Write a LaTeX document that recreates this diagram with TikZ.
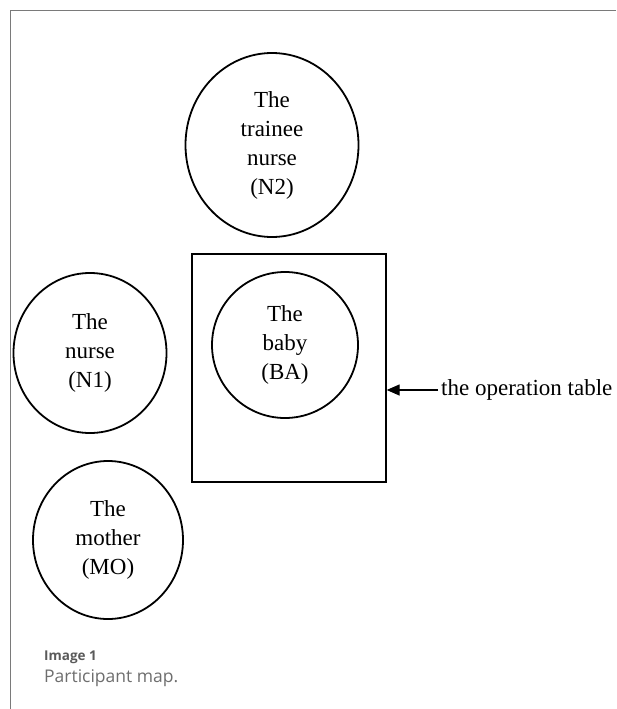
\documentclass[tikz,border=0pt]{standalone}
\usepackage{fontspec}
\setmainfont{Liberation Serif}
\newfontfamily\capfont{Open Sans}
\usetikzlibrary{shapes.geometric,arrows.meta}
\definecolor{framegray}{HTML}{7A7A7A}
\definecolor{capdark}{HTML}{5A5A5A}
\definecolor{caplight}{HTML}{6E6E6E}
\tikzset{
  person/.style={ellipse, draw=black, line width=1.8pt, inner sep=0pt, align=center,
    font=\fontsize{23}{29}\selectfont},
  tablebox/.style={rectangle, draw=black, line width=1.3pt, inner sep=0pt},
  pointer/.style={draw=black, line width=1.3pt, -{Triangle[length=13pt,width=11pt]}},
  framerule/.style={draw=framegray, line width=1pt},
}
\begin{document}
\begin{tikzpicture}[x=1pt,y=-1pt]
\useasboundingbox (0,0) rectangle (616,709);
% frame (top and left edges)
\coordinate (ftr) at (616,11);
\coordinate (ftl) at (10,11);
\coordinate (fbl) at (10,709);
\draw[framerule] (ftr) -- (ftl) -- (fbl);
% operation table
\node[tablebox, minimum width=194pt, minimum height=228pt] (table) at (289,368) {};
% participants
\node[person, minimum width=173pt, minimum height=184pt] (n2) at (272,145) {The\\trainee\\nurse\\(N2)};
\node[person, minimum width=153pt, minimum height=160pt] (n1) at (90,353) {The\\nurse\\(N1)};
\node[person, minimum width=146pt, minimum height=146pt] (ba) at (285,345) {The\\baby\\(BA)};
\node[person, minimum width=150pt, minimum height=158pt] (mo) at (108,540) {The\\mother\\(MO)};
% label and arrow
\node[anchor=west, inner xsep=3pt, inner ysep=0pt, font=\fontsize{23}{29}\selectfont] (lbl) at (438,390) {the operation table};
\draw[pointer] (lbl.west) -- (lbl.west -| table.east);
% caption
\node[anchor=base west, inner sep=0pt, text=capdark, font=\capfont\bfseries\fontsize{13.5}{16}\selectfont] (capa) at (44,660) {Image 1};
\node[anchor=base west, inner sep=0pt, text=caplight, font=\capfont\fontsize{17.5}{21}\selectfont] (capb) at (44,682) {Participant map.};
\end{tikzpicture}
\end{document}
